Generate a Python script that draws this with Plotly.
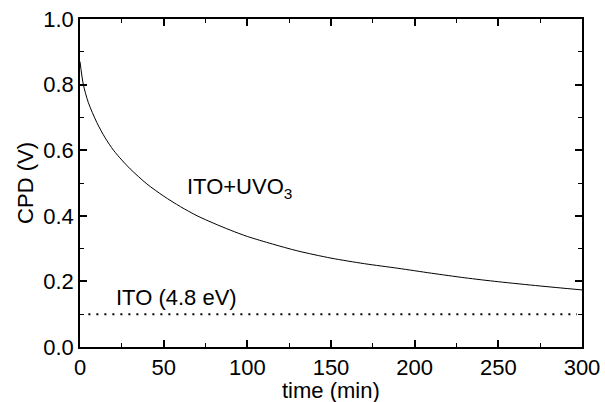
import plotly.graph_objects as go

# Data
time_min = [0, 2, 5, 10, 15, 20, 25, 30, 40, 50, 60, 70, 80, 90, 100, 115, 130,
            150, 170, 190, 210, 230, 250, 275, 300]
cpd_uvo3 = [0.870, 0.800, 0.745, 0.685, 0.638, 0.600, 0.570, 0.543, 0.497, 0.460,
            0.428, 0.400, 0.377, 0.356, 0.337, 0.314, 0.293, 0.271, 0.254, 0.240,
            0.225, 0.211, 0.199, 0.186, 0.174]
ito_time = [5, 297]
ito_cpd = [0.1, 0.1]

x_ticks = [0, 50, 100, 150, 200, 250, 300]
y_ticks = [0.0, 0.2, 0.4, 0.6, 0.8, 1.0]
y_ticklabels = ["0.0", "0.2", "0.4", "0.6", "0.8", "1.0"]

FONT = "Liberation Sans, Arial, Helvetica, sans-serif"
FS = 22

fig = go.Figure()
fig.add_trace(go.Scatter(x=time_min, y=cpd_uvo3, mode="lines",
                         line=dict(color="black", width=1, shape="spline", smoothing=0.8),
                         showlegend=False))
fig.add_trace(go.Scatter(x=ito_time, y=ito_cpd, mode="lines",
                         line=dict(color="black", width=2, dash="2px,6px"),
                         showlegend=False))

fig.add_annotation(x=62.5, y=0.485, xref="x", yref="y", text="ITO+UVO<sub>3</sub>",
                   showarrow=False, xanchor="left", yanchor="middle",
                   font=dict(family=FONT, size=FS, color="black"))
fig.add_annotation(x=20.5, y=0.152, xref="x", yref="y", text="ITO (4.8 eV)",
                   showarrow=False, xanchor="left", yanchor="middle",
                   font=dict(family=FONT, size=FS, color="black"))
# x-axis title
fig.add_annotation(x=0.5, y=-0.132, xref="paper", yref="paper", text="time (min)",
                   showarrow=False, xanchor="center", yanchor="middle",
                   font=dict(family=FONT, size=FS, color="black"))

axis_common = dict(showgrid=False, zeroline=False, showline=True, linecolor="black",
                   linewidth=1.5, mirror="ticks", ticks="inside", ticklen=7,
                   tickwidth=1.5, tickcolor="black", automargin=False,
                   tickfont=dict(family=FONT, size=FS, color="black"))

fig.update_xaxes(range=[0, 300], tickvals=x_ticks,
                 minor=dict(ticks="inside", ticklen=4, dtick=25, tickcolor="black", tickwidth=1.2),
                 **axis_common)
fig.update_yaxes(range=[0, 1.0], tickvals=y_ticks, ticktext=y_ticklabels,
                 minor=dict(ticks="inside", ticklen=4, dtick=0.1, tickcolor="black", tickwidth=1.2),
                 title=dict(text="CPD (V)", font=dict(family=FONT, size=FS, color="black"), standoff=4),
                 **axis_common)

fig.update_layout(width=605, height=402, margin=dict(l=80, r=23, t=19, b=55),
                  plot_bgcolor="white", paper_bgcolor="white")

fig.write_html("out.html")
